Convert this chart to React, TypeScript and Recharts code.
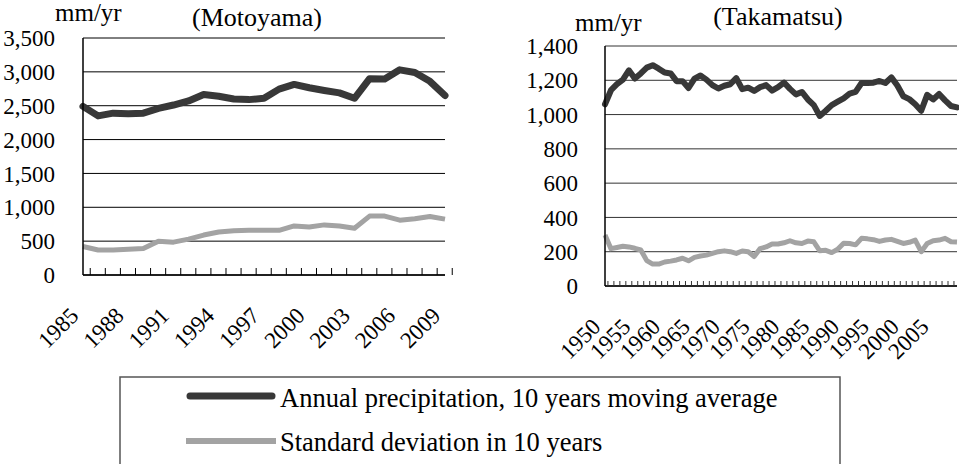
import { LineChart, Line, XAxis, YAxis, CartesianGrid } from 'recharts';

const FONT = '"Liberation Serif", "Times New Roman", serif';

const seriesNames = ['Annual precipitation, 10 years moving average', 'Standard deviation in 10 years'];
const avgColor = '#383838';
const sdColor = '#a3a3a3';

// Motoyama
const motoYears = ['1985', '1986', '1987', '1988', '1989', '1990', '1991', '1992', '1993', '1994', '1995', '1996', '1997', '1998', '1999', '2000', '2001', '2002', '2003', '2004', '2005', '2006', '2007', '2008', '2009'];
const motoAvg = [2490, 2350, 2390, 2380, 2390, 2460, 2510, 2570, 2665, 2640, 2600, 2590, 2610, 2745, 2815, 2765, 2725, 2690, 2610, 2900, 2895, 3030, 2990, 2860, 2650];
const motoSd = [420, 370, 370, 380, 390, 500, 485, 530, 590, 635, 655, 660, 660, 660, 725, 710, 740, 725, 690, 870, 870, 810, 830, 865, 825];
const motoTickLabels = ['1985', '1988', '1991', '1994', '1997', '2000', '2003', '2006', '2009'];
const motoYTicks = [0, 500, 1000, 1500, 2000, 2500, 3000, 3500];

// Takamatsu
const takaYears = ['1950', '1951', '1952', '1953', '1954', '1955', '1956', '1957', '1958', '1959', '1960', '1961', '1962', '1963', '1964', '1965', '1966', '1967', '1968', '1969', '1970', '1971', '1972', '1973', '1974', '1975', '1976', '1977', '1978', '1979', '1980', '1981', '1982', '1983', '1984', '1985', '1986', '1987', '1988', '1989', '1990', '1991', '1992', '1993', '1994', '1995', '1996', '1997', '1998', '1999', '2000', '2001', '2002', '2003', '2004', '2005', '2006', '2007', '2008', '2009'];
const takaAvg = [1060, 1142, 1177, 1204, 1258, 1210, 1240, 1274, 1288, 1268, 1245, 1240, 1195, 1195, 1155, 1210, 1228, 1204, 1172, 1152, 1168, 1177, 1213, 1148, 1157, 1138, 1160, 1172, 1140, 1160, 1187, 1150, 1118, 1132, 1088, 1055, 992, 1022, 1055, 1075, 1095, 1122, 1132, 1184, 1184, 1186, 1196, 1184, 1217, 1170, 1107, 1090, 1060, 1022, 1115, 1088, 1120, 1083, 1050, 1042];
const takaSd = [298, 218, 225, 232, 228, 220, 210, 148, 128, 128, 140, 145, 152, 162, 147, 167, 175, 180, 190, 200, 205, 200, 190, 204, 200, 172, 218, 228, 245, 245, 252, 264, 252, 248, 262, 258, 205, 208, 195, 214, 250, 248, 240, 278, 275, 270, 260, 268, 272, 260, 248, 255, 268, 200, 248, 264, 268, 278, 258, 256];
const takaTickLabels = ['1950', '1955', '1960', '1965', '1970', '1975', '1980', '1985', '1990', '1995', '2000', '2005'];
const takaYTicks = [0, 200, 400, 600, 800, 1000, 1200, 1400];

const motoData = motoYears.map((year, i) => ({ year, avg: motoAvg[i], sd: motoSd[i] }));
const takaData = takaYears.map((year, i) => ({ year, avg: takaAvg[i], sd: takaSd[i] }));

const fmt = (v: number) => v.toLocaleString('en-US');
const tickStyle = { fontSize: 23, fill: '#000', fontFamily: FONT, style: { fontFamily: FONT } };

// x tick: short inward mark at the category boundary + rotated year label
const XTick = (props: any) => {
  const { x, y, payload, step, tickLen, labels, markColor } = props;
  const bx = x + step / 2;
  const lx = x - 3;
  const ly = y + 42;
  return (
    <g>
      <line x1={bx} x2={bx} y1={y} y2={y - tickLen} stroke={markColor} strokeWidth={1} />
      {labels.includes(payload.value) && (
        <text x={lx} y={ly} transform={`rotate(-45, ${lx}, ${ly})`} textAnchor="end" fontSize={23} fill="#000" style={{ fontFamily: FONT }}>
          {payload.value}
        </text>
      )}
    </g>
  );
};

export default function App() {
  // Motoyama layout
  const mW = 460, mYW = 83, mRight = 15;
  const mStep = (mW - mYW - mRight) / motoData.length;
  // Takamatsu layout
  const tW = 469, tYW = 115, tRight = 2;
  const tStep = (tW - tYW - tRight) / takaData.length;

  return (
    <div style={{ position: 'absolute', left: 0, top: 0, width: 959, height: 464, background: '#fff', overflow: 'hidden', fontFamily: FONT }}>
      <div style={{ position: 'absolute', left: 0, top: 0 }}>
        <LineChart width={mW} height={375} data={motoData} margin={{ top: 38, right: mRight, left: 0, bottom: 0 }}>
          <CartesianGrid vertical={false} stroke="#000" strokeWidth={1} />
          <XAxis
            dataKey="year"
            interval={0}
            tickSize={0}
            tickMargin={0}
            tickLine={false}
            height={100}
            axisLine={{ stroke: '#000', strokeWidth: 1.5 }}
            tick={<XTick step={mStep} tickLen={7} labels={motoTickLabels} markColor="#000" />}
          />
          <YAxis
            width={mYW}
            domain={[0, 3500]}
            ticks={motoYTicks}
            tickFormatter={fmt}
            tickLine={false}
            tickMargin={22}
            axisLine={{ stroke: '#000', strokeWidth: 1.5 }}
            tick={tickStyle}
          />
          <YAxis yAxisId="r" orientation="right" width={0} domain={[0, 1]} tick={false} tickLine={false} axisLine={{ stroke: '#000' }} />
          <Line type="linear" dataKey="sd" stroke={sdColor} strokeWidth={5} dot={false} isAnimationActive={false} strokeLinejoin="round" />
          <Line type="linear" dataKey="avg" stroke={avgColor} strokeWidth={7} dot={false} isAnimationActive={false} strokeLinejoin="round" strokeLinecap="round" />
        </LineChart>
      </div>

      <div style={{ position: 'absolute', left: 490, top: 0 }}>
        <LineChart width={tW} height={386} data={takaData} margin={{ top: 46, right: tRight, left: 0, bottom: 0 }}>
          <CartesianGrid vertical={false} stroke="#333" strokeWidth={1} />
          <XAxis
            dataKey="year"
            interval={0}
            tickSize={0}
            tickMargin={0}
            tickLine={false}
            height={100}
            axisLine={{ stroke: '#000', strokeWidth: 1.5 }}
            tick={<XTick step={tStep} tickLen={5} labels={takaTickLabels} markColor="#333" />}
          />
          <YAxis
            width={tYW}
            domain={[0, 1400]}
            ticks={takaYTicks}
            tickFormatter={fmt}
            tickLine={false}
            tickMargin={21}
            axisLine={{ stroke: '#000', strokeWidth: 1.5 }}
            tick={tickStyle}
          />
          <YAxis yAxisId="r" orientation="right" width={0} domain={[0, 1]} tick={false} tickLine={false} axisLine={{ stroke: '#333' }} />
          <Line type="linear" dataKey="sd" stroke={sdColor} strokeWidth={5} dot={false} isAnimationActive={false} strokeLinejoin="round" />
          <Line type="linear" dataKey="avg" stroke={avgColor} strokeWidth={6} dot={false} isAnimationActive={false} strokeLinejoin="round" strokeLinecap="round" />
        </LineChart>
      </div>

      <svg width={959} height={464} style={{ position: 'absolute', left: 0, top: 0, pointerEvents: 'none', fontFamily: FONT }}>
        <text x={55} y={21} fontSize={25} fill="#000">mm/yr</text>
        <text x={257} y={26} fontSize={26} fill="#000" textAnchor="middle">(Motoyama)</text>
        <text x={575} y={31} fontSize={25} fill="#000">mm/yr</text>
        <text x={778} y={25} fontSize={26} fill="#000" textAnchor="middle">(Takamatsu)</text>

        <rect x={120} y={377} width={720} height={100} fill="none" stroke="#555" strokeWidth={1.5} />
        <line x1={190} x2={272} y1={396} y2={396} stroke={avgColor} strokeWidth={7} strokeLinecap="round" />
        <text x={280} y={407} fontSize={26.5} fill="#000">{seriesNames[0]}</text>
        <line x1={186} x2={276} y1={441} y2={441} stroke={sdColor} strokeWidth={6} />
        <text x={280} y={451} fontSize={26.5} fill="#000">{seriesNames[1]}</text>
      </svg>
    </div>
  );
}
